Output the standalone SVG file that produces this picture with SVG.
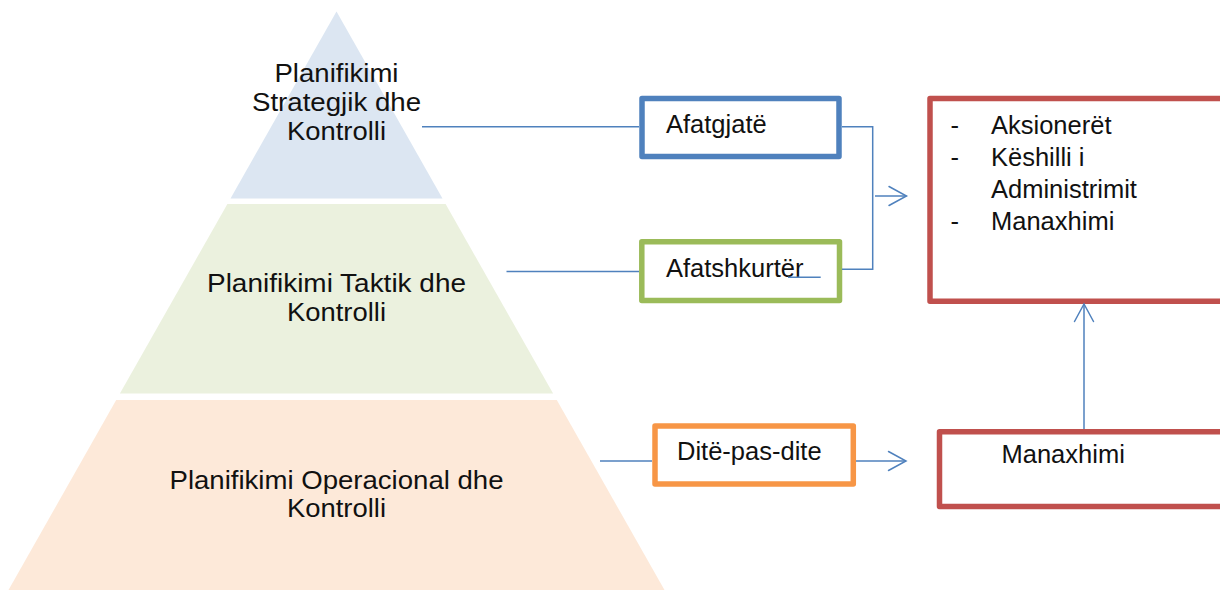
<svg xmlns="http://www.w3.org/2000/svg" width="1220" height="590" viewBox="0 0 1220 590">
  <style>
    .tier-text { font-family: "Liberation Sans", Arial, sans-serif; font-size: 26px; fill: #111; text-anchor: middle; }
    .box-text { font-family: "Liberation Sans", Arial, sans-serif; font-size: 25.5px; fill: #111; }
    .box { fill: #ffffff; stroke-width: 5.5; stroke-linejoin: round; }
    .conn { fill: none; stroke: #4F81BD; stroke-width: 1.5; }
  </style>
  <defs>
    <marker id="chevron" viewBox="-22 -12 26 24" refX="0" refY="0" markerWidth="26" markerHeight="24" markerUnits="userSpaceOnUse" orient="auto">
      <path d="M-17.5,-9.5 L0,0 L-17.5,9.5" fill="none" stroke="#4F81BD" stroke-width="1.5" stroke-linecap="round" stroke-linejoin="miter"/>
    </marker>
  </defs>

  <rect width="1220" height="590" fill="#ffffff"/>

  <!-- Pyramid tiers -->
  <g id="tier-strategic">
    <polygon points="336.5,11.5 442.5,198.5 230.5,198.5" fill="#DCE6F2"/>
    <text class="tier-text" x="336.5" y="82" textLength="124" lengthAdjust="spacingAndGlyphs">Planifikimi</text>
    <text class="tier-text" x="336.5" y="111" textLength="169" lengthAdjust="spacingAndGlyphs">Strategjik dhe</text>
    <text class="tier-text" x="336.5" y="140" textLength="99" lengthAdjust="spacingAndGlyphs">Kontrolli</text>
  </g>
  <g id="tier-tactical">
    <polygon points="227.4,204 445.6,204 553.1,393.5 119.9,393.5" fill="#EBF1DE"/>
    <text class="tier-text" x="336.5" y="292" textLength="259" lengthAdjust="spacingAndGlyphs">Planifikimi Taktik dhe</text>
    <text class="tier-text" x="336.5" y="321" textLength="99" lengthAdjust="spacingAndGlyphs">Kontrolli</text>
  </g>
  <g id="tier-operational">
    <polygon points="116.2,400 556.8,400 664.5,590 8.5,590" fill="#FDE9D9"/>
    <text class="tier-text" x="336.5" y="488.5" textLength="334" lengthAdjust="spacingAndGlyphs">Planifikimi Operacional dhe</text>
    <text class="tier-text" x="336.5" y="516.5" textLength="99" lengthAdjust="spacingAndGlyphs">Kontrolli</text>
  </g>

  <!-- Horizon boxes -->
  <g id="box-long-term">
    <rect class="box" x="642" y="98.5" width="197" height="58" stroke="#4F81BD"/>
    <text class="box-text" x="666" y="133">Afatgjatë</text>
  </g>
  <g id="box-short-term">
    <rect class="box" x="641.8" y="241.8" width="197.7" height="58.7" stroke="#9BBB59"/>
    <text class="box-text" x="666" y="276.7">Afatshkurtër</text>
  </g>
  <g id="box-day-to-day">
    <rect class="box" x="655" y="426" width="198.3" height="58" stroke="#F79646"/>
    <text class="box-text" x="677" y="460">Ditë-pas-dite</text>
  </g>

  <!-- Responsible parties -->
  <g id="box-governance">
    <rect class="box" x="930" y="98.5" width="310" height="202.7" stroke="#C0504D"/>
    <text class="box-text" x="950.5" y="133.5">-</text>
    <text class="box-text" x="991" y="133.5">Aksionerët</text>
    <text class="box-text" x="950.5" y="165.5">-</text>
    <text class="box-text" x="991" y="165.5">Këshilli i</text>
    <text class="box-text" x="991" y="197.5">Administrimit</text>
    <text class="box-text" x="950.5" y="229.5">-</text>
    <text class="box-text" x="991" y="229.5">Manaxhimi</text>
  </g>
  <g id="box-management">
    <rect class="box" x="939.5" y="431.8" width="300" height="74.8" stroke="#C0504D"/>
    <text class="box-text" x="1001.5" y="463.3">Manaxhimi</text>
  </g>

  <!-- Connectors (drawn last so they sit above the boxes) -->
  <g id="connectors">
    <path class="conn" d="M422,126.7 H639"/>
    <path class="conn" d="M506.5,271.5 H639"/>
    <path class="conn" d="M842,126.7 H872.7 V269.3 H842"/>
    <path class="conn" d="M875,196 H906.5" marker-end="url(#chevron)"/>
    <path class="conn" d="M788,277.3 H820.7"/>
    <path class="conn" d="M600,461 H652"/>
    <path class="conn" d="M856,461 H906" marker-end="url(#chevron)"/>
    <path class="conn" d="M1084,429 V304" marker-end="url(#chevron)"/>
  </g>
</svg>
